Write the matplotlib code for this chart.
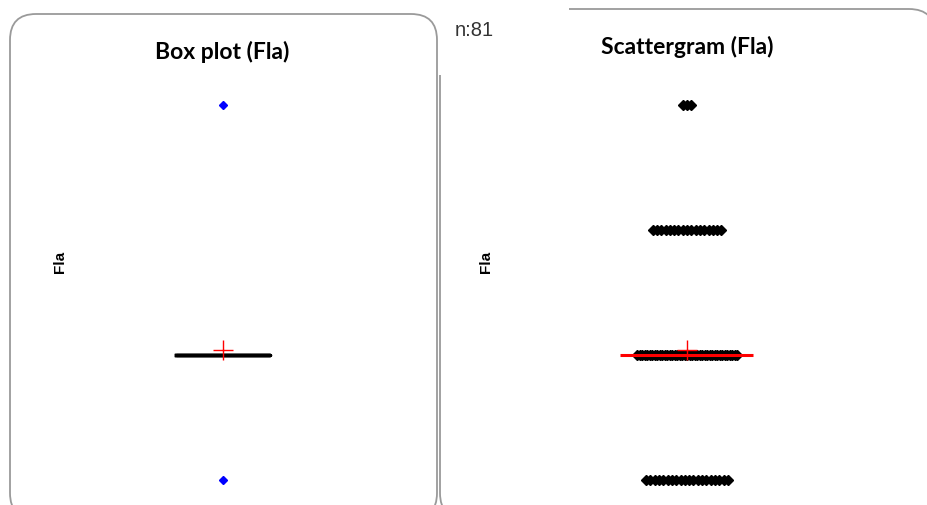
import numpy as np
import matplotlib
matplotlib.use("Agg")
import matplotlib.pyplot as plt
from matplotlib.patches import FancyBboxPatch, Rectangle

# Fla values (discrete levels) and how many observations sit at each level
fla_levels = [1, 2, 3, 4]
fla_counts = [20, 41, 17, 3]
n_obs = sum(fla_counts)

fla = np.repeat(fla_levels, fla_counts)
q1, med, q3 = np.percentile(fla, [25, 50, 75])
mean = fla.mean()
vmin, vmax = fla.min(), fla.max()

W, H = 927, 506
fig = plt.figure(figsize=(W / 100, H / 100), dpi=100)
fig.patch.set_facecolor("white")

# background layer in pixel coordinates for the rounded frames
bg = fig.add_axes([0, 0, 1, 1], zorder=0)
bg.set_xlim(0, W)
bg.set_ylim(H, 0)
bg.axis("off")

frame_col = "#9a9a9a"
right_box = FancyBboxPatch((440, 10), 495, 510, boxstyle="round,pad=0,rounding_size=26",
                           fc="white", ec=frame_col, lw=1.3)
bg.add_patch(right_box)
# label area for the count hides the top-left corner of the right frame
bg.add_patch(Rectangle((438.8, -2), 130, 78, fc="white", ec="none"))
left_box = FancyBboxPatch((10, 15), 427, 505, boxstyle="round,pad=0,rounding_size=26",
                          fc="white", ec=frame_col, lw=1.3)
bg.add_patch(left_box)

bg.text(222, 52, "Box plot (Fla)", ha="center", va="center", fontsize=16.5,
        fontweight="bold", family="Lato")
bg.text(687, 47, "Scattergram (Fla)", ha="center", va="center", fontsize=16.5,
        fontweight="bold", family="Lato")
bg.text(455, 30, "n:%d" % n_obs, ha="left", va="center", fontsize=14.5,
        color="#333333", family="Liberation Sans")
bg.text(60, 262, "Fla", rotation=90, ha="center", va="center", fontsize=11,
        fontweight="bold", family="Liberation Sans")
bg.text(486, 262, "Fla", rotation=90, ha="center", va="center", fontsize=11,
        fontweight="bold", family="Liberation Sans")

# shared vertical scale: 125 px per unit, axes from y=85 to y=500 px
ax_bottom = (H - 500) / H
ax_height = 415 / H
ylo = 1 - 19 / 125
yhi = ylo + 415 / 125


def clean(ax):
    ax.set_ylim(ylo, yhi)
    ax.patch.set_alpha(0)
    for s in ax.spines.values():
        s.set_visible(False)
    ax.set_xticks([])
    ax.set_yticks([])


# box plot
ax1 = fig.add_axes([100 / W, ax_bottom, 246 / W, ax_height], zorder=2)
stats = [dict(med=med, q1=q1, q3=q3, whislo=q1, whishi=q3, mean=mean, fliers=[])]
ax1.bxp(stats, positions=[1], widths=0.38, showmeans=True, showcaps=False,
        manage_ticks=False,
        boxprops=dict(color="black", lw=2.5),
        whiskerprops=dict(color="black", lw=1),
        medianprops=dict(color="black", lw=2.5),
        meanprops=dict(marker="+", markersize=14, markeredgecolor="red",
                       markeredgewidth=1))
ax1.plot([1, 1], [vmin, vmax], "D", ms=4.5, color="blue", ls="none")
ax1.set_xlim(0.5, 1.5)
clean(ax1)

# scattergram, x in pixel-like units around the centre
ax2 = fig.add_axes([560 / W, ax_bottom, 254 / W, ax_height], zorder=2)
ax2.set_xlim(-127, 127)
for lev, cnt in zip(fla_levels, fla_counts):
    step = min(4.3, 100 / max(cnt - 1, 1))
    xs = (np.arange(cnt) - (cnt - 1) / 2) * step
    ax2.plot(xs, np.full(cnt, lev), "D", ms=5.5, color="black", ls="none")
ax2.hlines(med, -67, 66, color="red", lw=2.2, zorder=3)
ax2.plot([0], [mean], "+", ms=14, mec="red", mew=1, zorder=4)
clean(ax2)

fig.savefig("out.png", dpi=100)
